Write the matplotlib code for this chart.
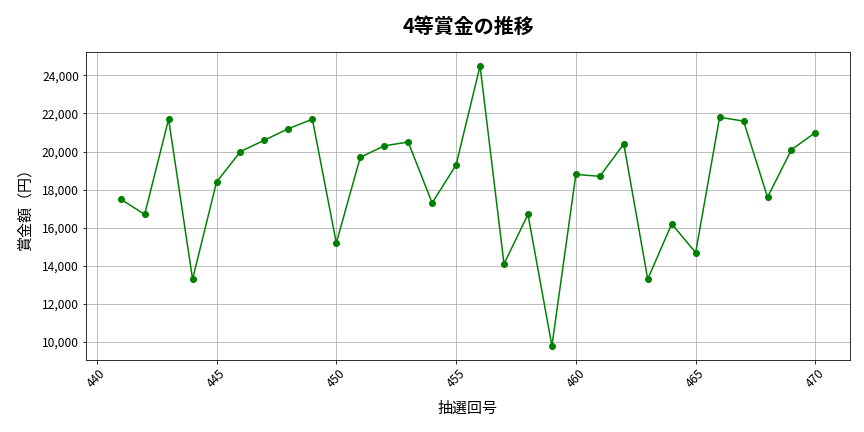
import matplotlib
matplotlib.use('Agg')
import matplotlib.pyplot as plt
from matplotlib.ticker import FuncFormatter

plt.rcParams['font.family'] = ['Noto Sans CJK JP', 'DejaVu Sans']

# 抽選回号と4等賞金
draws = list(range(441, 471))
prizes = [17500, 16700, 21700, 13300, 18400, 20000, 20600, 21200, 21700, 15200,
          19700, 20300, 20500, 17300, 19300, 24500, 14100, 16700, 9800, 18800,
          18700, 20400, 13300, 16200, 14700, 21800, 21600, 17600, 20100, 21000]

fig, ax = plt.subplots(figsize=(12, 6), dpi=72)
ax.plot(draws, prizes, marker='o', color='green', markersize=6, linewidth=1.5)
ax.set_title('4等賞金の推移', fontsize=20, fontweight='bold', pad=19)
ax.set_xlabel('抽選回号', fontsize=15, labelpad=11)
ax.set_ylabel('賞金額（円）', fontsize=15, labelpad=9)
ax.yaxis.set_major_formatter(FuncFormatter(lambda v, p: f'{int(v):,}'))
ax.tick_params(axis='both', labelsize=12)
plt.setp(ax.get_xticklabels(), rotation=45)
ax.grid(True, color='#b0b0b0', linewidth=0.8)
fig.subplots_adjust(left=0.0995, right=0.984, top=0.880, bottom=0.167)
fig.savefig('out.png', dpi=72)
